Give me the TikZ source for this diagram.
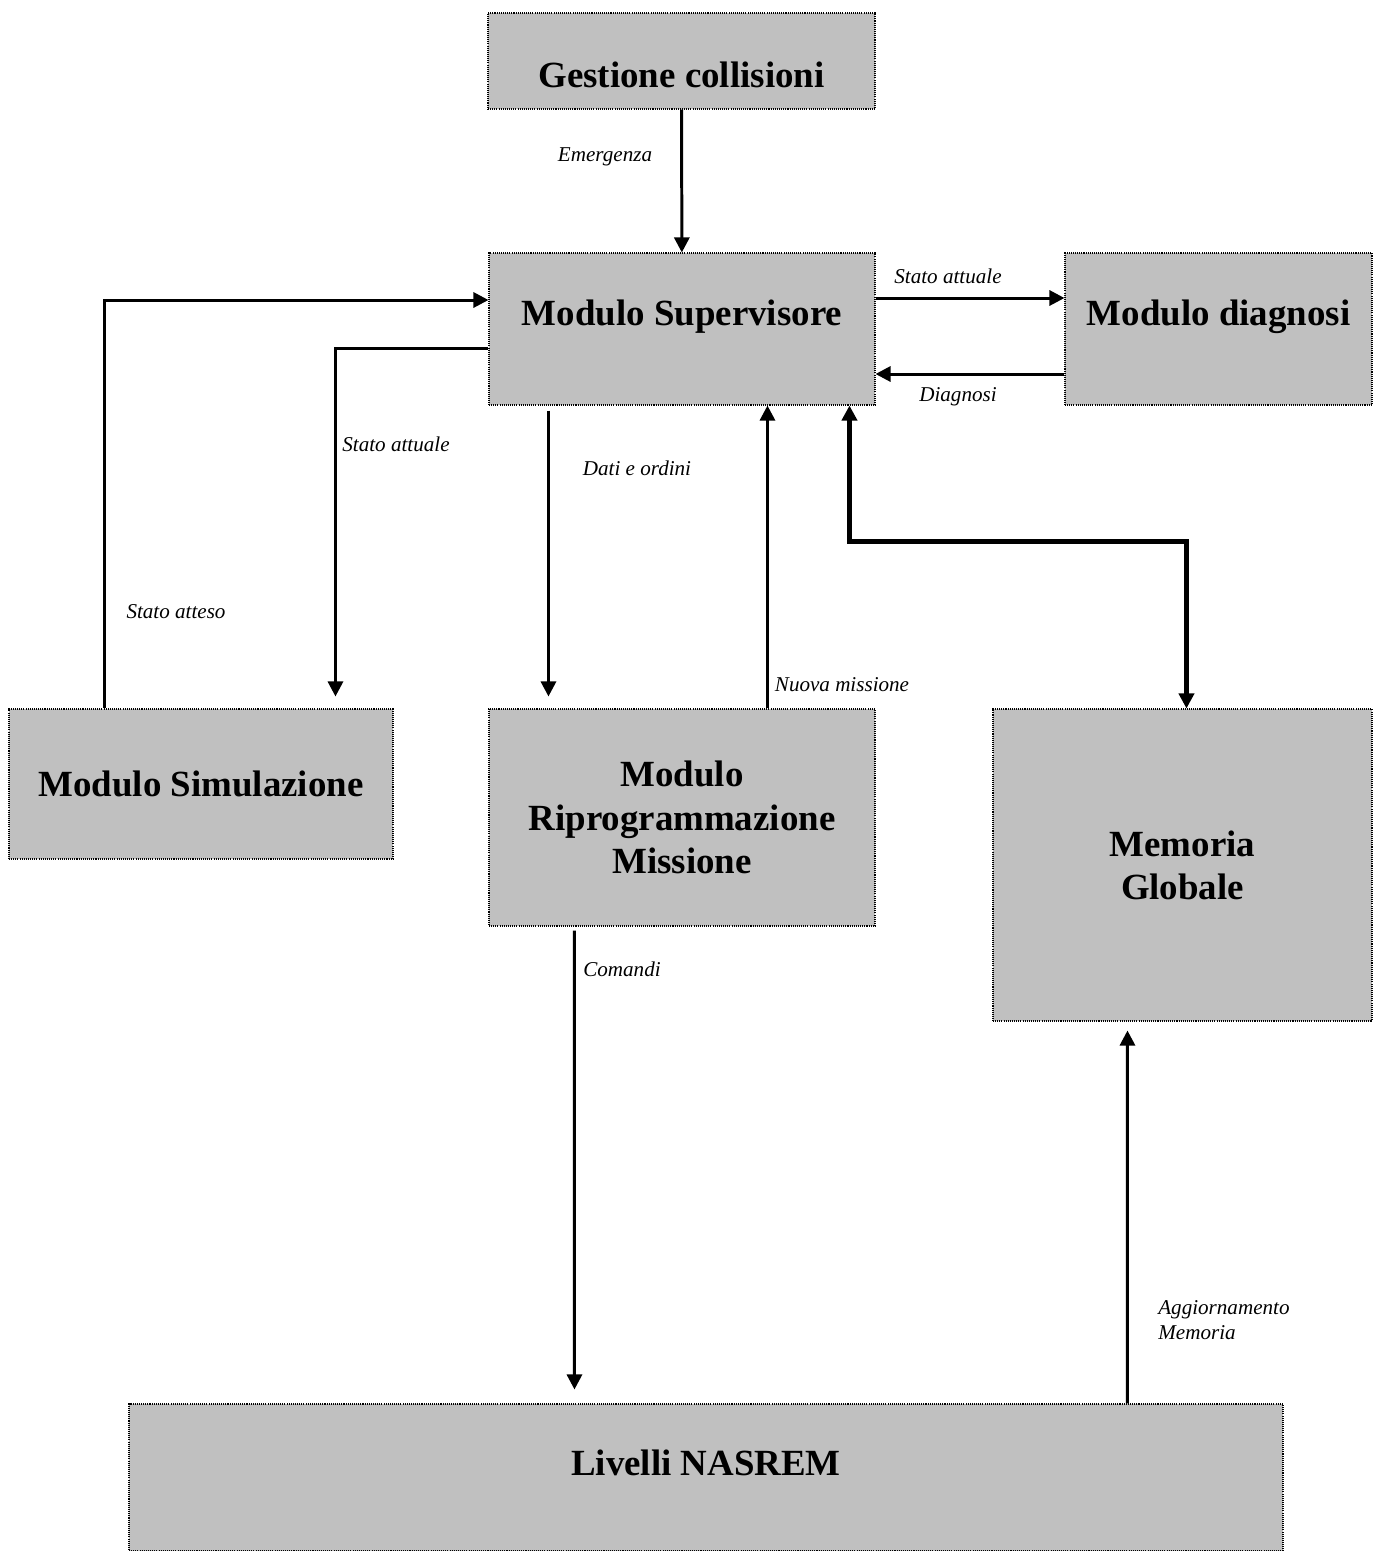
\documentclass[tikz,border=0pt]{standalone}
\usepackage{fontspec}
\setmainfont{Liberation Serif}
\usetikzlibrary{arrows.meta}
\definecolor{boxgray}{HTML}{C0C0C0}
\tikzset{
    box/.style={draw,fill=boxgray,line width=0.6pt,dash pattern=on 0.6pt off 0.6pt,
        align=center,inner sep=0pt,font=\bfseries\fontsize{21}{24.6}\selectfont},
    lab/.style={font=\itshape\fontsize{12}{14.2}\selectfont,inner sep=0pt},
    flow/.style={draw,line width=1.7pt,-{Triangle[length=0.3cm,width=0.3cm]}},
    bigflow/.style={draw,line width=2.8pt,{Triangle[length=0.3cm,width=0.3cm]}-{Triangle[length=0.3cm,width=0.3cm]}}
}
\begin{document}
\begin{tikzpicture}
    \useasboundingbox (0,0) rectangle (27.44,-31.02);

        \node[box,minimum width=7.74cm,minimum height=1.92cm,text height=1.06cm,text depth=0cm] (gest) at (13.63,-1.22){Gestione collisioni};
        \node[box,minimum width=7.72cm,minimum height=3.04cm,text height=0.5cm,text depth=0.64cm] (sup) at (13.64,-6.58){Modulo Supervisore};
        \node[box,minimum width=6.14cm,minimum height=3.04cm,text height=0.5cm,text depth=0.64cm] (diag) at (24.37,-6.58){Modulo diagnosi};
        \node[box,minimum width=7.68cm,minimum height=3.00cm] (sim) at (4.02,-15.68){Modulo Simulazione};
        \node[box,minimum width=7.72cm,minimum height=4.34cm] (riprog) at (13.64,-16.35){Modulo\\Riprogrammazione\\Missione};
        \node[box,minimum width=7.58cm,minimum height=6.24cm] (mem) at (23.65,-17.30){Memoria\\Globale};
        \node[box,minimum width=23.08cm,minimum height=2.94cm,text depth=0.58cm] (nasrem) at (14.12,-29.55){Livelli NASREM};

        \path [flow] (gest) to (sup);
        \path [flow] ([xshift=1.92cm]sim.north west) |- ([yshift=0.58cm]sup.west);
        \path [flow] ([yshift=-0.38cm]sup.west) -| ([xshift=6.54cm,yshift=0.24cm]sim.north west);
        \path [flow] ([xshift=1.20cm,yshift=-0.1cm]sup.south west) to ([xshift=1.20cm,yshift=0.24cm]riprog.north west);
        \path [flow] ([xshift=5.58cm]riprog.north west) to ([xshift=5.58cm]sup.south west);
        \path [flow] ([yshift=0.62cm]sup.east) to ([yshift=0.62cm]diag.west);
        \path [flow] ([yshift=-0.9cm]diag.west) to ([yshift=-0.9cm]sup.east);
        \path [bigflow] ([xshift=7.22cm]sup.south west) -- ++(0,-2.72) -| ([xshift=3.88cm]mem.north west);
        \path [flow] ([xshift=1.72cm,yshift=-0.08cm]riprog.south west) to ([xshift=8.92cm,yshift=0.28cm]nasrem.north west);
        \path [flow] ([xshift=19.98cm]nasrem.north west) to ([xshift=2.70cm,yshift=-0.18cm]mem.south west);

        \node[lab] (l1) at (12.10,-3.14){Emergenza};
        \node[lab] (l2) at (3.52,-12.24){Stato atteso};
        \node[lab] (l3) at (7.92,-8.88){Stato attuale};
        \node[lab] (l4) at (12.74,-9.36){Dati e ordini};
        \node[lab] (l5) at (16.84,-13.70){Nuova missione};
        \node[lab] (l6) at (18.96,-5.52){Stato attuale};
        \node[lab] (l7) at (19.16,-7.94){Diagnosi};
        \node[lab] (l8) at (12.44,-19.38){Comandi};
        \node[lab,anchor=west,align=left] (l9) at (23.16,-26.40){Aggiornamento\\Memoria};
    \end{tikzpicture}
\end{document}
